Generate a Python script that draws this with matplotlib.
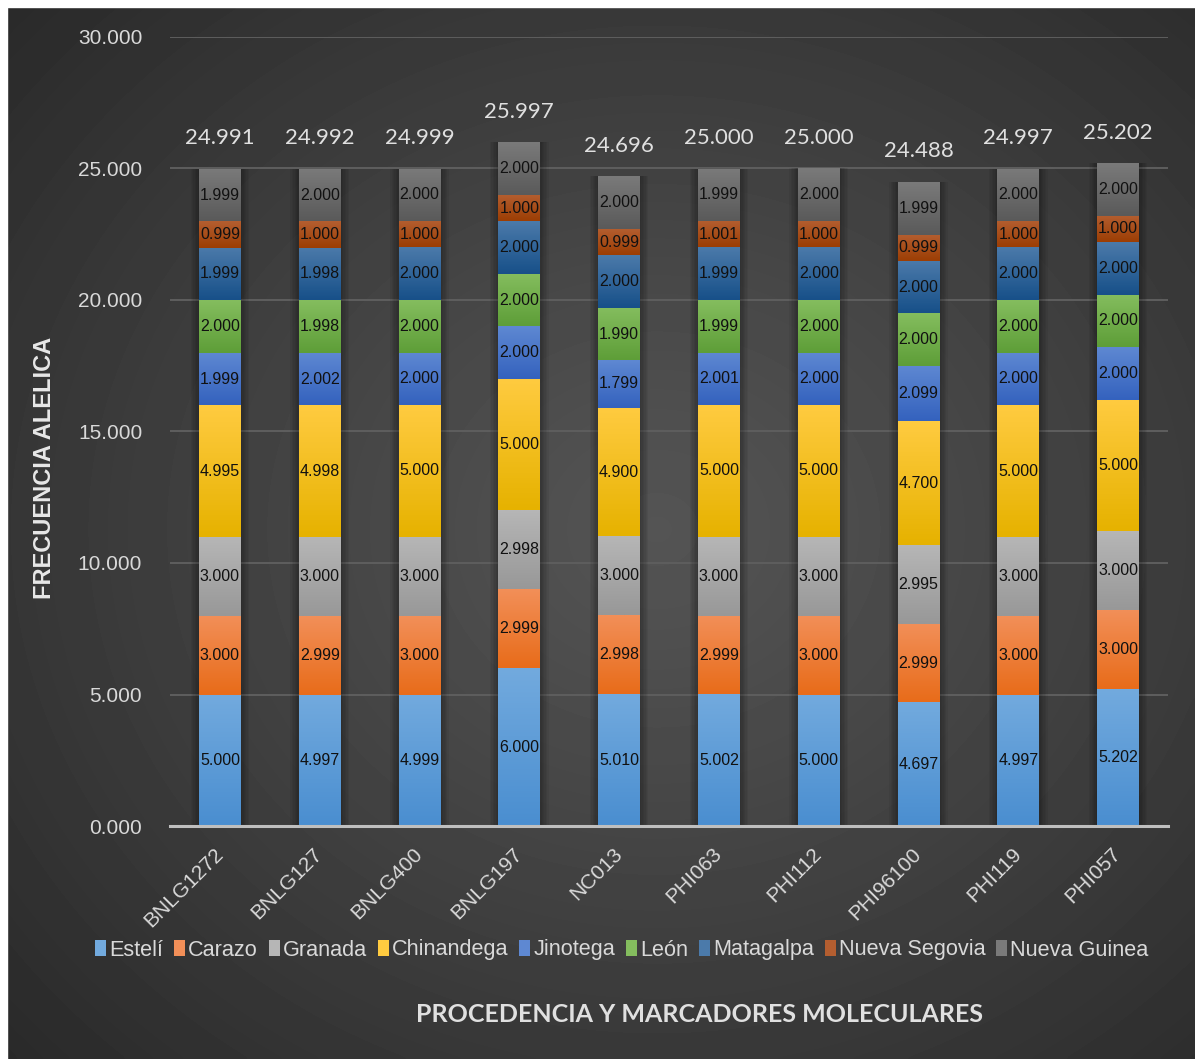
import numpy as np
import matplotlib.pyplot as plt
from matplotlib.colors import LinearSegmentedColormap
from matplotlib.patches import Patch, Rectangle

plt.rcParams['font.family'] = ['Liberation Sans', 'DejaVu Sans']

markers = ['BNLG1272', 'BNLG127', 'BNLG400', 'BNLG197', 'NC013',
           'PHI063', 'PHI112', 'PHI96100', 'PHI119', 'PHI057']

esteli = [5.000, 4.997, 4.999, 6.000, 5.010, 5.002, 5.000, 4.697, 4.997, 5.202]
carazo = [3.000, 2.999, 3.000, 2.999, 2.998, 2.999, 3.000, 2.999, 3.000, 3.000]
granada = [3.000, 3.000, 3.000, 2.998, 3.000, 3.000, 3.000, 2.995, 3.000, 3.000]
chinandega = [4.995, 4.998, 5.000, 5.000, 4.900, 5.000, 5.000, 4.700, 5.000, 5.000]
jinotega = [1.999, 2.002, 2.000, 2.000, 1.799, 2.001, 2.000, 2.099, 2.000, 2.000]
leon = [2.000, 1.998, 2.000, 2.000, 1.990, 1.999, 2.000, 2.000, 2.000, 2.000]
matagalpa = [1.999, 1.998, 2.000, 2.000, 2.000, 1.999, 2.000, 2.000, 2.000, 2.000]
nueva_segovia = [0.999, 1.000, 1.000, 1.000, 0.999, 1.001, 1.000, 0.999, 1.000, 1.000]
nueva_guinea = [1.999, 2.000, 2.000, 2.000, 2.000, 1.999, 2.000, 1.999, 2.000, 2.000]

series = [
    ('Estelí', esteli, '#4a8ed0', '#72aade'),
    ('Carazo', carazo, '#e86c1a', '#f28f58'),
    ('Granada', granada, '#989898', '#b6b6b6'),
    ('Chinandega', chinandega, '#e6b200', '#ffcb40'),
    ('Jinotega', jinotega, '#3462be', '#5e88d2'),
    ('León', leon, '#5e9e38', '#84bd5e'),
    ('Matagalpa', matagalpa, '#175089', '#4b7aaa'),
    ('Nueva Segovia', nueva_segovia, '#9c3e04', '#b45e30'),
    ('Nueva Guinea', nueva_guinea, '#5a5a5a', '#7a7a7a'),
]

W, H = 1195, 1059
fig = plt.figure(figsize=(W / 100, H / 100), dpi=100, facecolor='#2a2a2a')

# dark radial background, lighter towards the middle
bg = fig.add_axes([0, 0, 1, 1], zorder=-10)
yy, xx = np.mgrid[0:1:300j, 0:1:300j]
r = np.sqrt(((xx - 0.55) / 0.75) ** 2 + ((yy - 0.50) / 0.75) ** 2)
shade = np.clip(0.33 - 0.17 * r ** 1.1, 0.15, 1)
bg.imshow(shade, cmap='gray', vmin=0, vmax=1, aspect='auto',
          extent=[0, 1, 0, 1], interpolation='bicubic')
bg.set_xlim(0, 1)
bg.set_ylim(0, 1)
bg.axis('off')
# white margin on the top and left edges
bg.add_patch(Rectangle((0, 0), 7 / W, 1, color='white', zorder=5))
bg.add_patch(Rectangle((0, 1 - 7 / H), 1, 7 / H, color='white', zorder=5))

ax = fig.add_axes([170 / W, 1 - 826 / H, 998 / W, 789 / H])
ax.set_facecolor('none')

x = np.arange(len(markers))
width = 0.42
totals = np.sum([s[1] for s in series], axis=0)

# soft shadow behind each stacked column
for k in range(1, 7):
    ax.bar(x, totals, width=width + 0.028 * k, color='black', alpha=0.05,
           zorder=2, linewidth=0)

grad = np.linspace(0, 1, 64).reshape(-1, 1)
bottom = np.zeros(len(markers))
for name, vals, c_bot, c_top in series:
    vals = np.array(vals)
    cmap = LinearSegmentedColormap.from_list(name, [c_bot, c_top])
    bars = ax.bar(x, vals, width=width, bottom=bottom, color=c_bot,
                  linewidth=0, zorder=3)
    for rect, v in zip(bars, vals):
        x0, y0 = rect.get_x(), rect.get_y()
        im = ax.imshow(grad, extent=[x0, x0 + rect.get_width(), y0, y0 + v],
                       origin='lower', cmap=cmap, aspect='auto', zorder=3.5,
                       interpolation='bilinear')
        im.set_clip_path(rect)
        ax.text(rect.get_x() + rect.get_width() / 2, y0 + v / 2, f'{v:.3f}',
                ha='center', va='center', fontsize=11.5, color='#111111',
                zorder=5)
    bottom += vals

for xi, t in zip(x, totals):
    ax.annotate(f'{t:.3f}', (xi, t), xytext=(0, 22), textcoords='offset points',
                ha='center', va='center', fontsize=16, color='#e0e0e0',
                family='Lato', zorder=5)

ax.set_xlim(-0.5, len(markers) - 0.5)
ax.set_ylim(0, 30)
ax.set_yticks(np.arange(0, 31, 5))
ax.set_yticklabels([f'{v:.3f}' for v in np.arange(0, 31, 5)])
ax.set_xticks(x)
ax.set_xticklabels(markers, rotation=45, ha='right', va='center',
                   rotation_mode='anchor')
ax.tick_params(axis='both', length=0, colors='#d9d9d9', labelsize=15)
ax.tick_params(axis='y', pad=20)
ax.tick_params(axis='x', pad=18)
ax.grid(axis='y', color='#5e5e5e', linewidth=1.4)
ax.set_axisbelow(True)
for side in ['top', 'right', 'left']:
    ax.spines[side].set_visible(False)
ax.spines['bottom'].set_color('#bfbfbf')
ax.spines['bottom'].set_linewidth(2.2)
ax.spines['bottom'].set_zorder(6)

fig.text(45 / W, 1 - 468 / H, 'FRECUENCIA ALELICA', rotation=90,
         ha='center', va='center', fontsize=17, fontweight='bold',
         color='#e8e8e8')
fig.text(700 / W, 1 - 1015 / H, 'PROCEDENCIA Y MARCADORES MOLECULARES',
         ha='center', va='center', fontsize=18, fontweight='bold',
         color='#e0e0e0', family='Lato')

handles = [Patch(facecolor=c_top, edgecolor='none') for _, _, _, c_top in series]
leg = fig.legend(handles, [s[0] for s in series], loc='center',
                 bbox_to_anchor=(622 / W, 1 - 950 / H), ncol=9, frameon=False,
                 fontsize=15.6, handlelength=0.5, handleheight=0.8,
                 handletextpad=0.15, columnspacing=0.5, borderpad=0)
for txt in leg.get_texts():
    txt.set_color('#d9d9d9')

fig.savefig('out.png', dpi=100, facecolor=fig.get_facecolor())
